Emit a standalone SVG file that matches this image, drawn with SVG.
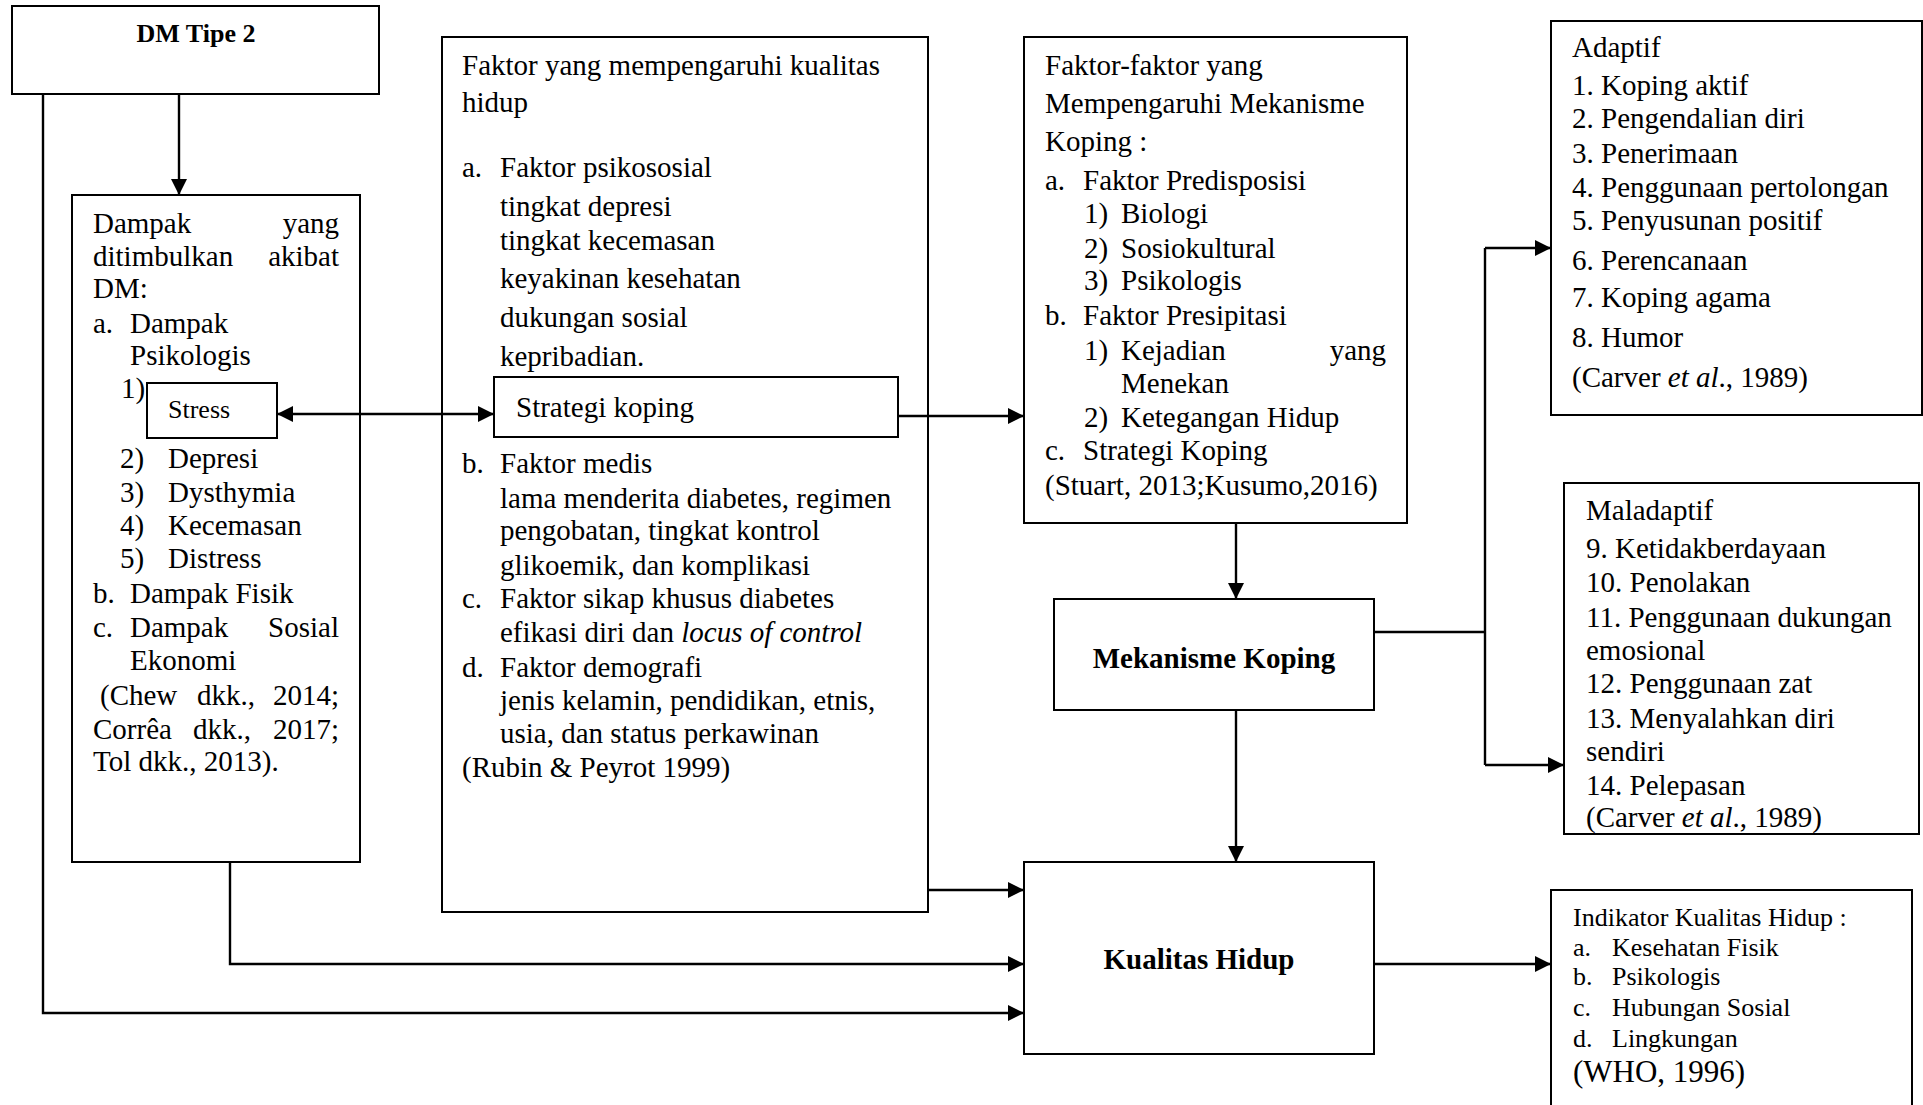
<svg xmlns="http://www.w3.org/2000/svg" width="1923" height="1105" viewBox="0 0 1923 1105">
<style>
text{font-family:"Liberation Serif","Times New Roman",serif;font-size:29px;fill:#000}
.b{font-weight:bold}
.s26{font-size:26px}
.s31{font-size:31px}
.e{text-anchor:end}
.m{text-anchor:middle}
rect{fill:#fff;stroke:#000;stroke-width:2}
.c path{fill:none;stroke:#000;stroke-width:2.4}
</style>
<defs>
<marker id="ah" viewBox="0 0 16 16" refX="16" refY="8" markerWidth="16" markerHeight="16" markerUnits="userSpaceOnUse" orient="auto-start-reverse"><path d="M0,0 L16,8 L0,16 z" fill="#000"/></marker>
</defs>
<rect x="0" y="0" width="1923" height="1105" style="fill:#fff;stroke:none"/>

<g id="dm">
<rect x="12" y="6" width="367" height="88"/>
<text class="b s26 m" x="196" y="42">DM Tipe 2</text>
</g>

<g id="dampak">
<rect x="72" y="195" width="288" height="667"/>
<text x="93" y="233">Dampak</text><text class="e" x="339" y="233">yang</text>
<text x="93" y="266">ditimbulkan</text><text class="e" x="339" y="266">akibat</text>
<text x="93" y="298">DM:</text>
<text x="93" y="333">a.</text><text x="130" y="333">Dampak</text>
<text x="130" y="365">Psikologis</text>
<text x="121" y="398">1)</text>
<text x="120" y="468">2)</text><text x="168" y="468">Depresi</text>
<text x="120" y="502">3)</text><text x="168" y="502">Dysthymia</text>
<text x="120" y="535">4)</text><text x="168" y="535">Kecemasan</text>
<text x="120" y="568">5)</text><text x="168" y="568">Distress</text>
<text x="93" y="603">b.</text><text x="130" y="603">Dampak Fisik</text>
<text x="93" y="637">c.</text><text x="130" y="637">Dampak</text><text class="e" x="339" y="637">Sosial</text>
<text x="130" y="670">Ekonomi</text>
<text x="100" y="705">(Chew</text><text x="197" y="705">dkk.,</text><text class="e" x="339" y="705">2014;</text>
<text x="93" y="739">Corrêa</text><text x="193" y="739">dkk.,</text><text class="e" x="339" y="739">2017;</text>
<text x="93" y="771">Tol dkk., 2013).</text>
</g>

<g id="stress">
<rect x="147" y="383" width="130" height="55"/>
<text class="s26" x="168" y="418">Stress</text>
</g>

<g id="faktor">
<rect x="442" y="37" width="486" height="875"/>
<text x="462" y="75">Faktor yang mempengaruhi kualitas</text>
<text x="462" y="112">hidup</text>
<text x="462" y="177">a.</text><text x="500" y="177">Faktor psikososial</text>
<text x="500" y="216">tingkat depresi</text>
<text x="500" y="250">tingkat kecemasan</text>
<text x="500" y="288">keyakinan kesehatan</text>
<text x="500" y="327">dukungan sosial</text>
<text x="500" y="366">kepribadian.</text>
<text x="462" y="473">b.</text><text x="500" y="473">Faktor medis</text>
<text x="500" y="508">lama menderita diabetes, regimen</text>
<text x="500" y="540">pengobatan, tingkat kontrol</text>
<text x="500" y="575">glikoemik, dan komplikasi</text>
<text x="462" y="608">c.</text><text x="500" y="608">Faktor sikap khusus diabetes</text>
<text x="500" y="642">efikasi diri dan <tspan font-style="italic">locus of control</tspan></text>
<text x="462" y="677">d.</text><text x="500" y="677">Faktor demografi</text>
<text x="500" y="710">jenis kelamin, pendidikan, etnis,</text>
<text x="500" y="743">usia, dan status perkawinan</text>
<text x="462" y="777">(Rubin &amp; Peyrot 1999)</text>
</g>

<g id="strategi">
<rect x="494" y="377" width="404" height="60"/>
<text x="516" y="417">Strategi koping</text>
</g>

<g id="faktor-koping">
<rect x="1024" y="37" width="383" height="486"/>
<text x="1045" y="75">Faktor-faktor yang</text>
<text x="1045" y="113">Mempengaruhi Mekanisme</text>
<text x="1045" y="151">Koping :</text>
<text x="1045" y="190">a.</text><text x="1083" y="190">Faktor Predisposisi</text>
<text x="1084" y="223">1)</text><text x="1121" y="223">Biologi</text>
<text x="1084" y="258">2)</text><text x="1121" y="258">Sosiokultural</text>
<text x="1084" y="290">3)</text><text x="1121" y="290">Psikologis</text>
<text x="1045" y="325">b.</text><text x="1083" y="325">Faktor Presipitasi</text>
<text x="1084" y="360">1)</text><text x="1121" y="360">Kejadian</text><text class="e" x="1386" y="360">yang</text>
<text x="1121" y="393">Menekan</text>
<text x="1084" y="427">2)</text><text x="1121" y="427">Ketegangan Hidup</text>
<text x="1045" y="460">c.</text><text x="1083" y="460">Strategi Koping</text>
<text x="1045" y="495">(Stuart, 2013;Kusumo,2016)</text>
</g>

<g id="mekanisme">
<rect x="1054" y="599" width="320" height="111"/>
<text class="b m" x="1214" y="668">Mekanisme Koping</text>
</g>

<g id="kualitas">
<rect x="1024" y="862" width="350" height="192"/>
<text class="b m" x="1199" y="969">Kualitas Hidup</text>
</g>

<g id="adaptif">
<rect x="1551" y="21" width="371" height="394"/>
<text x="1572" y="57">Adaptif</text>
<text x="1572" y="95">1. Koping aktif</text>
<text x="1572" y="128">2. Pengendalian diri</text>
<text x="1572" y="163">3. Penerimaan</text>
<text x="1572" y="197">4. Penggunaan pertolongan</text>
<text x="1572" y="230">5. Penyusunan positif</text>
<text x="1572" y="270">6. Perencanaan</text>
<text x="1572" y="307">7. Koping agama</text>
<text x="1572" y="347">8. Humor</text>
<text x="1572" y="387">(Carver <tspan font-style="italic">et al</tspan>., 1989)</text>
</g>

<g id="maladaptif">
<rect x="1564" y="483" width="355" height="351"/>
<text x="1586" y="520">Maladaptif</text>
<text x="1586" y="558">9. Ketidakberdayaan</text>
<text x="1586" y="592">10. Penolakan</text>
<text x="1586" y="627">11. Penggunaan dukungan</text>
<text x="1586" y="660">emosional</text>
<text x="1586" y="693">12. Penggunaan zat</text>
<text x="1586" y="728">13. Menyalahkan diri</text>
<text x="1586" y="761">sendiri</text>
<text x="1586" y="795">14. Pelepasan</text>
<text x="1586" y="827">(Carver <tspan font-style="italic">et al</tspan>., 1989)</text>
</g>

<g id="indikator">
<rect x="1551" y="890" width="361" height="230"/>
<text class="s26" x="1573" y="926">Indikator Kualitas Hidup :</text>
<text class="s26" x="1573" y="956">a.</text><text class="s26" x="1612" y="956">Kesehatan Fisik</text>
<text class="s26" x="1573" y="985">b.</text><text class="s26" x="1612" y="985">Psikologis</text>
<text class="s26" x="1573" y="1016">c.</text><text class="s26" x="1612" y="1016">Hubungan Sosial</text>
<text class="s26" x="1573" y="1047">d.</text><text class="s26" x="1612" y="1047">Lingkungan</text>
<text class="s31" x="1573" y="1082">(WHO, 1996)</text>
</g>

<g id="connectors" class="c">
<path d="M179,94 V195" marker-end="url(#ah)"/>
<path d="M43,94 V1013 H1024" marker-end="url(#ah)"/>
<path d="M230,862 V964 H1024" marker-end="url(#ah)"/>
<path d="M277,414 H494" marker-start="url(#ah)" marker-end="url(#ah)"/>
<path d="M898,416 H1024" marker-end="url(#ah)"/>
<path d="M928,890 H1024" marker-end="url(#ah)"/>
<path d="M1236,523 V599" marker-end="url(#ah)"/>
<path d="M1236,710 V862" marker-end="url(#ah)"/>
<path d="M1374,632 H1485"/>
<path d="M1485,248 V765"/>
<path d="M1485,248 H1551" marker-end="url(#ah)"/>
<path d="M1485,765 H1564" marker-end="url(#ah)"/>
<path d="M1374,964 H1551" marker-end="url(#ah)"/>
</g>
</svg>
